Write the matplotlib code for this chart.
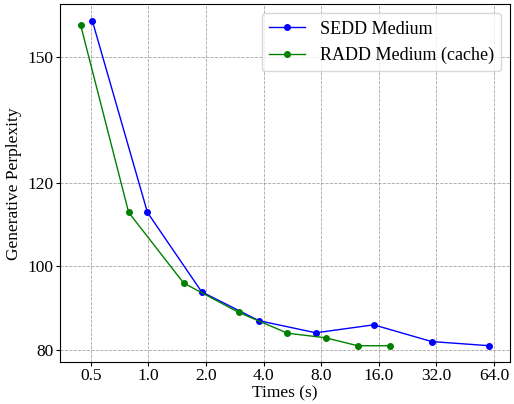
import matplotlib
matplotlib.use("Agg")
import matplotlib.pyplot as plt
from matplotlib.ticker import FixedLocator, FixedFormatter, NullLocator

plt.rcParams["font.family"] = ["Liberation Serif", "DejaVu Serif"]

# SEDD Medium
sedd_time = [0.51, 0.99, 1.90, 3.78, 7.49, 15.05, 30.2, 60.5]
sedd_ppl = [158.8, 112.9, 93.9, 87.0, 84.1, 86.0, 82.0, 81.0]

# RADD Medium (cache)
radd_time = [0.443, 0.79, 1.53, 2.96, 5.33, 8.44, 12.4, 18.4]
radd_ppl = [157.8, 112.9, 96.0, 89.0, 84.0, 82.9, 81.0, 81.0]

x_ticks = [0.5, 1.0, 2.0, 4.0, 8.0, 16.0, 32.0, 64.0]
y_ticks = [80, 100, 120, 150]

fig, ax = plt.subplots(figsize=(5.14, 4.04), dpi=100)
fig.subplots_adjust(left=0.117, right=0.992, top=0.989, bottom=0.104)

ax.plot(sedd_time, sedd_ppl, color="blue", marker="o", markersize=4,
        linewidth=1, label="SEDD Medium")
ax.plot(radd_time, radd_ppl, color="green", marker="o", markersize=4,
        linewidth=1, label="RADD Medium (cache)")

ax.set_xscale("log", base=2)
ax.xaxis.set_major_locator(FixedLocator(x_ticks))
ax.xaxis.set_major_formatter(FixedFormatter(["%.1f" % t for t in x_ticks]))
ax.xaxis.set_minor_locator(NullLocator())
ax.set_yticks(y_ticks)

ax.tick_params(labelsize=12.5, length=3, pad=1.5)
ax.set_xlabel("Times (s)", fontsize=12.5, labelpad=1)
ax.set_ylabel("Generative Perplexity", fontsize=12.5, labelpad=4)

ax.grid(True, linestyle="--", color="gray", linewidth=0.6, alpha=0.7)
ax.legend(loc="upper right", fontsize=13)

fig.savefig("out.png", dpi=100)
